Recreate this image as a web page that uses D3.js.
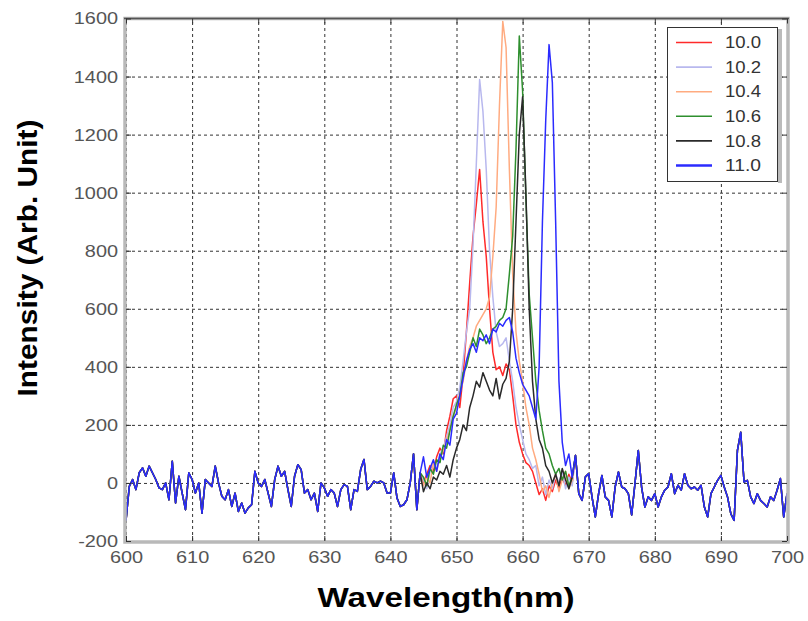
<!DOCTYPE html>
<meta charset="utf-8">
<html>
<head>
<script src="https://cdn.jsdelivr.net/npm/d3@7"></script>
<style>
	body { margin: 0; background: #fff; }
	text { font-family: Arial, "Liberation Sans", sans-serif; }
	.ticklabel text { font-size: 17px; fill: #555; }
	.grid line { stroke: #333; stroke-dasharray: 3,3; }
	.grid path, .ticklabel path, .ticklabel line, .tickmark path { display: none; }
	.tickmark line { stroke: #333; }
	.series { fill: none; stroke-width: 1.5; stroke-linejoin: round; }
	.title { font-weight: bold; font-size: 27px; fill: #000; }
	.legend text { font-size: 16px; fill: #333; }
</style>
</head>
<body>
<svg id="chart" width="808" height="621"></svg>
<script>
	// x grid: 600 to 700 nm every 0.5 nm
	var startWavelength = 600;
	var stepWavelength = 0.5;

	var seriesNames = ["10.0", "10.2", "10.4", "10.6", "10.8", "11.0"];
	var seriesColors = ["#ff2a2a", "#b8b8ee", "#ffab80", "#2e8f2e", "#2a2a2a", "#2b2bff"];

	var xTicks = [600, 610, 620, 630, 640, 650, 660, 670, 680, 690, 700];
	var yTicks = [-200, 0, 200, 400, 600, 800, 1000, 1200, 1400, 1600];

	// noise floor shared by all curves, 600 - 644.5 nm
	var baseLeft = [
		-130, -12, 12, -23, 35, 52, 23, 58, 35, 12,
		-17, -23, 0, -58, 75, -69, 23, -35, -92, 35,
		12, -35, 0, -104, 12, 0, -12, 58, 0, -46,
		-58, -23, -81, -35, -98, -69, -104, -86, -75, 40,
		0, -12, 12, -35, -81, 12, 58, 23, 40, -23,
		-81, 23, 63, 46, -35, -23, -58, -35, -98, 0,
		-17, -46, -23, -35, -81, -23, -6, -12, -92, -23,
		-29, 46, 81, -23, -12, 6, 0, 6, 0, -35,
		-35, 35, -52, -81, -75, -58, 0, 100, -92, 35
	];

	// noise floor shared by all curves, 668 - 700 nm
	var baseRight = [
		95, -37, -60, 21, 32, -48, -117, -37, 26, -48,
		-60, -117, -14, 38, -14, -20, -37, -110, -2, 112,
		-14, -83, -48, -60, -37, -83, -48, -25, -14, 32,
		-37, -8, -25, 32, -8, -20, -14, -25, -8, -83,
		-117, -37, -14, 9, 26, -14, -48, -106, -129, 112,
		175, 3, 9, -48, -71, -37, -60, -71, -83, -48,
		-60, -25, 15, -117, -37
	];

	// emission region 645 - 667.5 nm, one list per curve
	var peak100 = [
		0, 30, 60, 40, 90, 120, 100, 180, 230, 290,
		300, 260, 370, 520, 690, 850, 960, 1080, 900, 780,
		600, 450, 390, 400, 370, 410, 390, 300, 200, 140,
		100, 70, 60, 40, 0, -40, -20, -60, -10, -30,
		10, -20, 20, -10, 30, 0
	];
	var peak102 = [
		10, -20, 40, 60, 50, 100, 120, 160, 200, 260,
		280, 330, 420, 520, 600, 820, 1100, 1390, 1280, 1080,
		800, 640, 520, 470, 480, 500, 420, 350, 260, 200,
		150, 100, 80, 50, 60, -10, 20, -40, 10, -20,
		30, 0, 40, -20, 20, -10
	];
	var peak104 = [
		-10, 20, 0, 70, 40, 90, 110, 150, 180, 230,
		260, 310, 350, 420, 470, 500, 540, 560, 580, 600,
		640, 780, 950, 1300, 1590, 1500, 1080, 720, 520, 420,
		350, 260, 200, 120, 80, 30, -30, -10, -50, 0,
		30, -30, 10, 40, -20, 10
	];
	var peak106 = [
		20, -10, 50, 30, 80, 70, 130, 120, 180, 230,
		270, 300, 380, 400, 450, 500, 470, 530, 510, 480,
		500, 530, 540, 560, 570, 600, 720, 850, 1150, 1540,
		1350, 980, 650, 500, 350, 250, 180, 120, 100, 60,
		30, 50, 10, 40, -10, 20
	];
	var peak108 = [
		-30, 0, -20, 20, 10, 40, 30, 60, 20, 80,
		120, 150, 200, 180, 260, 300, 350, 330, 380, 350,
		320, 300, 360, 290, 340, 360, 420, 600, 900, 1200,
		1330, 1000, 600, 350, 220, 150, 120, 60, 40, 0,
		30, -10, 50, 10, -20, 20
	];
	var peak110 = [
		90, 20, 50, 80, 40, 100, 80, 150, 130, 220,
		240, 300, 360, 420, 460, 480, 450, 500, 490, 510,
		480, 530, 520, 550, 540, 560, 570, 520, 430, 380,
		340, 320, 300, 260, 220, 400, 900, 1250, 1510, 1380,
		900, 350, 140, 60, 100, 20
	];

	var peaks = [peak100, peak102, peak104, peak106, peak108, peak110];

	var series = peaks.map(function(p, k) {
		var vals = baseLeft.concat(p, baseRight);
		return {
			name: seriesNames[k],
			color: seriesColors[k],
			points: vals.map(function(v, i) { return {w: startWavelength + i * stepWavelength, v: v}; })
		};
	});

	var svgWidth = 808, svgHeight = 621;
	var margin = {top: 18.5, right: 21, bottom: 80, left: 126},
		graphWidth = svgWidth - margin.left - margin.right,
		graphHeight = svgHeight - margin.top - margin.bottom;

	var x = d3.scaleLinear().domain([600, 700]).range([0, graphWidth]);
	var y = d3.scaleLinear().domain([-200, 1600]).range([graphHeight, 0]);

	var svg = d3.select("#chart");
	var g = svg.append("g").attr("transform", "translate(" + margin.left + "," + margin.top + ")");

	g.append("clipPath").attr("id", "plotclip")
		.append("rect").attr("width", graphWidth).attr("height", graphHeight);

	// dashed grid
	g.append("g").attr("class", "grid")
		.attr("transform", "translate(0," + graphHeight + ")")
		.call(d3.axisBottom(x).tickValues(xTicks).tickSize(-graphHeight).tickFormat(""));
	g.append("g").attr("class", "grid")
		.call(d3.axisLeft(y).tickValues(yTicks).tickSize(-graphWidth).tickFormat(""));

	// curves
	var line = d3.line()
		.x(function(d) { return x(d.w); })
		.y(function(d) { return y(d.v); });

	g.append("g").attr("clip-path", "url(#plotclip)")
		.selectAll("path")
		.data(series)
		.enter()
		.append("path")
			.attr("class", "series")
			.attr("stroke", function(d) { return d.color; })
			.attr("stroke-width", function(d, i) { return i == 1 ? 2 : (i == 5 ? 1.6 : 1.5); })
			.attr("d", function(d) { return line(d.points); });

	// frame, matlab style
	g.append("rect")
		.attr("x", -1).attr("y", 0)
		.attr("width", graphWidth + 2).attr("height", graphHeight + 1)
		.attr("fill", "none").attr("stroke", "#b9b9b9").attr("stroke-width", 3.5);
	g.append("line")
		.attr("x1", -2).attr("x2", graphWidth + 2).attr("y1", 0).attr("y2", 0)
		.attr("stroke", "#555").attr("stroke-width", 1.5);

	// inward tick marks
	g.append("g").attr("class", "tickmark")
		.attr("transform", "translate(0," + graphHeight + ")")
		.call(d3.axisBottom(x).tickValues(xTicks).tickSize(-5).tickFormat(""));
	g.append("g").attr("class", "tickmark")
		.call(d3.axisTop(x).tickValues(xTicks).tickSize(-5).tickFormat(""));
	g.append("g").attr("class", "tickmark")
		.call(d3.axisLeft(y).tickValues(yTicks).tickSize(-5).tickFormat(""));
	g.append("g").attr("class", "tickmark")
		.attr("transform", "translate(" + graphWidth + ",0)")
		.call(d3.axisRight(y).tickValues(yTicks).tickSize(-5).tickFormat(""));

	// tick labels (plain hyphen for negatives, as in the original)
	g.append("g").attr("class", "ticklabel")
		.attr("transform", "translate(0," + graphHeight + ")")
		.call(d3.axisBottom(x).tickValues(xTicks).tickSize(0).tickPadding(10).tickFormat(function(d) { return String(d); }));
	g.append("g").attr("class", "ticklabel")
		.call(d3.axisLeft(y).tickValues(yTicks).tickSize(0).tickPadding(8).tickFormat(function(d) { return String(d); }));

	svg.selectAll(".ticklabel text").each(function() {
		this.setAttribute("textLength", this.getComputedTextLength() * 1.17);
		this.setAttribute("lengthAdjust", "spacingAndGlyphs");
	});

	// axis titles
	svg.append("text").attr("class", "title")
		.attr("x", 446).attr("y", 607)
		.attr("text-anchor", "middle")
		.attr("textLength", 257).attr("lengthAdjust", "spacingAndGlyphs")
		.text("Wavelength(nm)");
	svg.append("text").attr("class", "title")
		.attr("transform", "translate(37,258) rotate(-90)")
		.attr("text-anchor", "middle")
		.attr("textLength", 277).attr("lengthAdjust", "spacingAndGlyphs")
		.text("Intensity (Arb. Unit)");

	// legend
	var legend = svg.append("g").attr("class", "legend");
	legend.append("rect")
		.attr("x", 778).attr("y", 29).attr("width", 4).attr("height", 154)
		.attr("fill", "#bbb");
	legend.append("rect")
		.attr("x", 667.5).attr("y", 27.5).attr("width", 110).attr("height", 154)
		.attr("fill", "#fff").attr("stroke", "#333").attr("stroke-width", 1);

	var rows = legend.selectAll(".row")
		.data(series)
		.enter()
		.append("g")
			.attr("class", "row")
			.attr("transform", function(d, i) { return "translate(0," + (42.5 + i * 24.6) + ")"; });
	rows.append("line")
		.attr("x1", 676).attr("x2", 712)
		.attr("stroke", function(d) { return d.color; })
		.attr("stroke-width", function(d, i) { return i == 5 ? 2.5 : 1.6; });
	rows.append("text")
		.attr("x", 725).attr("dy", "0.36em")
		.attr("textLength", 36).attr("lengthAdjust", "spacingAndGlyphs")
		.text(function(d) { return d.name; });
</script>
</body>
</html>
